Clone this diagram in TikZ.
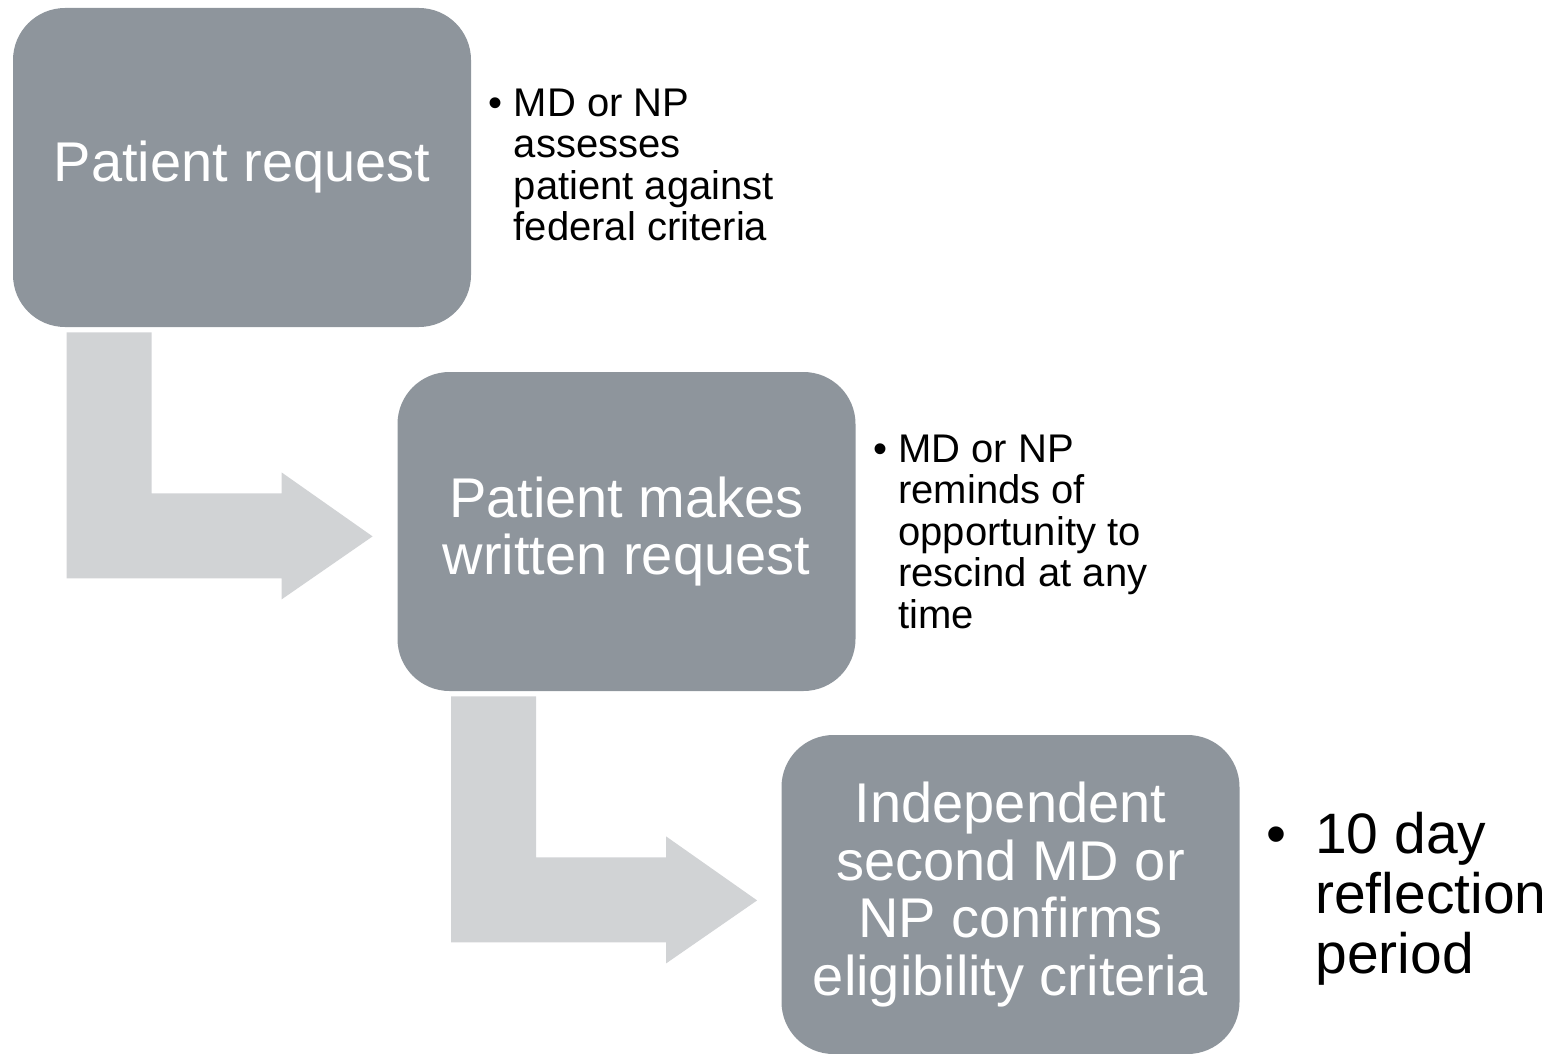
\documentclass[tikz,border=0pt]{standalone}
\usepackage{fontspec}
\setmainfont{Liberation Sans}
\definecolor{boxgray}{HTML}{8E959C}
\definecolor{arrowgray}{HTML}{D1D3D5}
\tikzset{
  stepbox/.style={fill=boxgray, rounded corners=26pt, minimum width=229pt, minimum height=159.5pt,
    inner sep=0pt, text=white, align=center, font=\fontsize{28}{28.75}\selectfont},
  note/.style={anchor=west, align=left, inner sep=0pt, font=\fontsize{20}{20.75}\selectfont},
  bentarrow/.style={fill=arrowgray},
}

\begin{document}
\begin{tikzpicture}[x=0.5pt, y=-0.5pt]
    \useasboundingbox (0,0) rectangle (1559,1054);
    \node[stepbox] (request) at (242,167.5) {Patient request}; % step 1
    \node[stepbox] (written) at (626.5,531.5) {Patient makes\\written request}; % step 2
    \node[stepbox] (confirm) at (1010.5,894.5) {Independent\\second MD or\\NP confirms\\eligibility criteria}; % step 3
    \node[note] (assess) at ([xshift=21pt, yshift=1.25pt]request.east) {\llap{\textbullet\hspace{5.5pt}}MD or NP\\assesses\\patient against\\federal criteria};
    \node[note] (remind) at ([xshift=21pt]written.east) {\llap{\textbullet\hspace{5.5pt}}MD or NP\\reminds of\\opportunity to\\rescind at any\\time};
    \node[note, font=\fontsize{28.5}{30}\selectfont] (reflect) at ([xshift=37.5pt, yshift=-2pt]confirm.east) {\llap{\textbullet\hspace{14.5pt}}10 day\\reflection\\period};
    \foreach \from in {request, written} % bent arrows
      \fill[bentarrow] ([shift={(54,5)}]\from.south west) -- ++(85,0) -- ++(0,161) -- ++(130,0) -- ++(0,-21)
        -- ++(91,64) -- ++(-91,63) -- ++(0,-21) -- ++(-215,0) -- cycle;
\end{tikzpicture}
\end{document}
